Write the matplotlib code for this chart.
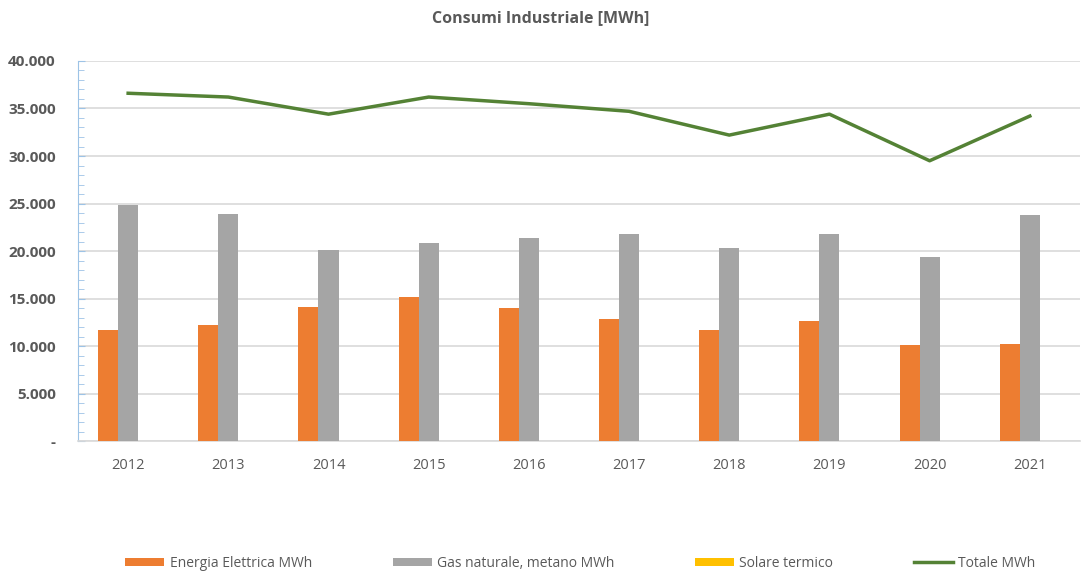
import numpy as np
import matplotlib
matplotlib.use('Agg')
import matplotlib.pyplot as plt
from matplotlib.ticker import FuncFormatter, MultipleLocator

# data
years = ['2012', '2013', '2014', '2015', '2016', '2017', '2018', '2019', '2020', '2021']
energia_elettrica = [11700, 12200, 14100, 15200, 14000, 12900, 11700, 12600, 10100, 10200]
gas_naturale = [24800, 23900, 20100, 20900, 21400, 21800, 20300, 21800, 19400, 23800]
solare_termico = [0, 0, 0, 0, 0, 0, 0, 0, 0, 0]
totale = [36600, 36200, 34400, 36200, 35500, 34700, 32200, 34400, 29500, 34200]

plt.rcParams['font.family'] = ['Open Sans', 'DejaVu Sans']
text_grey = '#595959'

fig = plt.figure(figsize=(10.81, 5.79), dpi=100)
ax = fig.add_axes([0.0722, 0.2378, 0.9268, 0.657])

x = np.arange(len(years))
w = 0.2
b1 = ax.bar(x - w, energia_elettrica, w, color='#ED7D31', label='Energia Elettrica MWh', zorder=3)
b2 = ax.bar(x, gas_naturale, w, color='#A5A5A5', label='Gas naturale, metano MWh', zorder=3)
b3 = ax.bar(x + w, solare_termico, w, color='#FFC000', label='Solare termico', zorder=3)
l1, = ax.plot(x, totale, color='#548235', lw=2.5, label='Totale MWh', zorder=4)

ax.set_xlim(-0.5, len(years) - 0.5)
ax.set_ylim(0, 40000)
ax.yaxis.set_major_locator(MultipleLocator(5000))
ax.yaxis.set_minor_locator(MultipleLocator(1000))
ax.yaxis.set_major_formatter(FuncFormatter(
    lambda v, p: '-' if v == 0 else f'{int(v):,}'.replace(',', '.')))
ax.set_xticks(x)
ax.set_xticklabels(years)

ax.grid(axis='y', color='#D9D9D9', lw=1.2, zorder=0)
for s in ['top', 'right']:
    ax.spines[s].set_visible(False)
ax.spines['left'].set_color('#9DC3E6')
ax.spines['bottom'].set_color('#D9D9D9')
ax.spines['bottom'].set_linewidth(1.2)

ax.tick_params(axis='y', which='both', direction='in', color='#9DC3E6',
               labelcolor=text_grey, labelsize=11, pad=16)
ax.tick_params(axis='y', which='major', length=5)
ax.tick_params(axis='y', which='minor', length=4)
ax.tick_params(axis='x', length=0, labelcolor=text_grey, labelsize=10.5, pad=12)
for lbl in ax.get_yticklabels():
    lbl.set_fontweight('bold')

fig.text(0.5, 0.968, 'Consumi Industriale [MWh]', ha='center', va='center',
         fontsize=11.5, fontweight='bold', color=text_grey)

fig.legend(handles=[b1, b2, b3, l1], loc='center', bbox_to_anchor=(0.537, 0.027),
           ncol=4, frameon=False, fontsize=10, labelcolor=text_grey,
           handlelength=2.8, handleheight=0.6, columnspacing=5.8, handletextpad=0.4)

fig.savefig('out.png', dpi=100)
